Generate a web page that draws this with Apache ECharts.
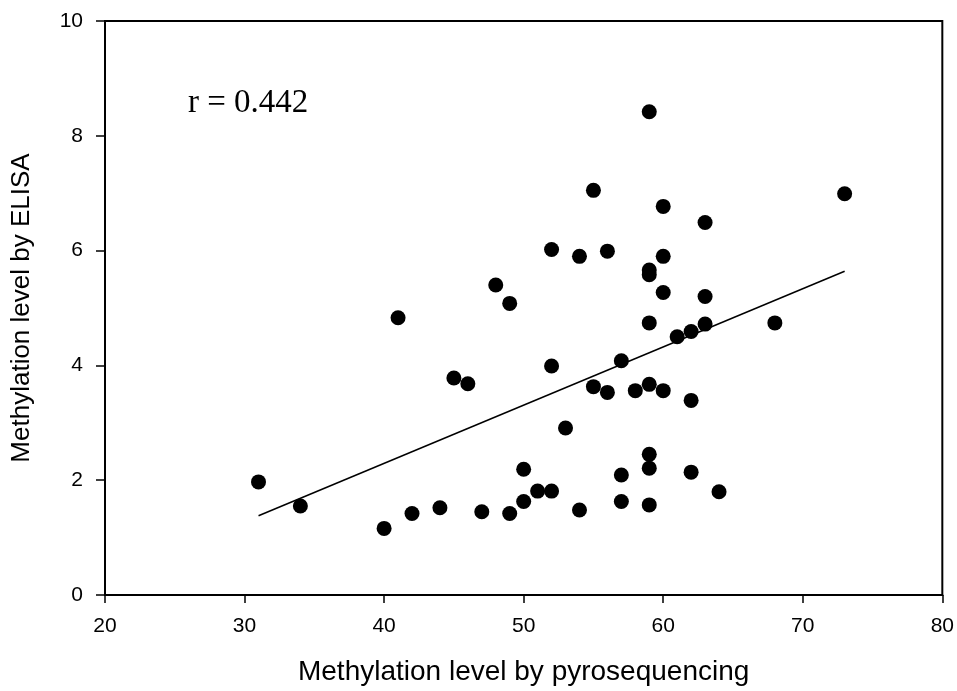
<!DOCTYPE html>
<html>
<head>
<meta charset="utf-8">
<title>Methylation scatter</title>
<script src="https://cdn.jsdelivr.net/npm/echarts@6/dist/echarts.min.js"></script>
<style>
    html, body { margin: 0; padding: 0; background: #fff; }
    #scatter_chart { width: 957px; height: 691px; }
</style>
</head>
<body>
<div id="scatter_chart"></div>
<script>
// Data
// ------------------------------

var pyroLevel = [31, 34, 40, 41, 42, 44, 45, 46, 47, 48, 49, 49, 50, 50, 51, 52, 52, 52,
    53, 54, 54, 55, 55, 56, 56, 57, 57, 57, 58, 59, 59, 59, 59, 59, 59, 59, 59,
    60, 60, 60, 60, 61, 62, 62, 62, 63, 63, 63, 64, 68, 73];
var elisaLevel = [1.97, 1.55, 1.16, 4.83, 1.42, 1.52, 3.78, 3.68, 1.45, 5.40, 5.08, 1.42, 2.19, 1.63, 1.81, 6.02, 3.99, 1.81,
    2.91, 5.90, 1.48, 7.05, 3.63, 5.99, 3.53, 4.08, 2.09, 1.63, 3.56, 8.42, 5.66, 5.58, 4.74, 3.67, 2.45, 2.21, 1.57,
    6.77, 5.90, 5.27, 3.56, 4.50, 4.59, 3.39, 2.14, 6.49, 5.20, 4.72, 1.80, 4.74, 6.99];

// regression line end points
var fitX = [31, 73];
var fitY = [1.38, 5.64];

var xTicks = [20, 30, 40, 50, 60, 70, 80];
var yTicks = [0, 2, 4, 6, 8, 10];
var corrLabel = 'r = 0.442';

var points = [];
for (var i = 0; i < pyroLevel.length; i++) {
    points.push([pyroLevel[i], elisaLevel[i]]);
}
var fitLine = [];
for (var j = 0; j < fitX.length; j++) {
    fitLine.push([fitX[j], fitY[j]]);
}

// Initialize chart
// ------------------------------

var scatter_chart = echarts.init(document.getElementById('scatter_chart'));

var axisFont = 'Liberation Sans, Arial, sans-serif';

var scatter_options = {
    animation: false,
    backgroundColor: '#fff',

    grid: {
        left: 105,
        right: 14,
        top: 21,
        bottom: 93,
        show: true,
        borderColor: '#000',
        borderWidth: 2
    },

    xAxis: {
        type: 'value',
        min: xTicks[0],
        max: xTicks[xTicks.length - 1],
        interval: 10,
        name: 'Methylation level by pyrosequencing',
        nameLocation: 'middle',
        nameGap: 63,
        nameTextStyle: { fontFamily: axisFont, fontSize: 28, color: '#000' },
        axisLine: { show: true, lineStyle: { color: '#000', width: 2 } },
        axisTick: { show: true, inside: false, length: 8, lineStyle: { color: '#000', width: 1.5 } },
        axisLabel: { margin: 21, fontFamily: axisFont, fontSize: 21, color: '#000' },
        splitLine: { show: false }
    },

    yAxis: {
        type: 'value',
        min: yTicks[0],
        max: yTicks[yTicks.length - 1],
        interval: 2,
        name: 'Methylation level by ELISA',
        nameLocation: 'middle',
        nameGap: 70,
        nameTextStyle: { fontFamily: axisFont, fontSize: 26, color: '#000' },
        axisLine: { show: true, lineStyle: { color: '#000', width: 2 } },
        axisTick: { show: true, inside: false, length: 9, lineStyle: { color: '#000', width: 1.5 } },
        axisLabel: { margin: 22, fontFamily: axisFont, fontSize: 21, color: '#000' },
        splitLine: { show: false }
    },

    // correlation coefficient label
    graphic: [{
        type: 'text',
        left: 188,
        top: 87,
        style: {
            text: corrLabel,
            fontFamily: 'Liberation Serif, Times New Roman, serif',
            fontSize: 33,
            fill: '#000'
        }
    }],

    series: [{
        name: 'Samples',
        type: 'scatter',
        symbol: 'circle',
        symbolSize: 15,
        itemStyle: { color: '#000', opacity: 1 },
        data: points,
        z: 3
    }, {
        name: 'Fit',
        type: 'line',
        symbol: 'none',
        lineStyle: { color: '#000', width: 1.5 },
        data: fitLine,
        z: 2
    }]
};

scatter_chart.setOption(scatter_options);

window.onresize = function () {
    setTimeout(function () {
        scatter_chart.resize();
    }, 200);
};
</script>
</body>
</html>
